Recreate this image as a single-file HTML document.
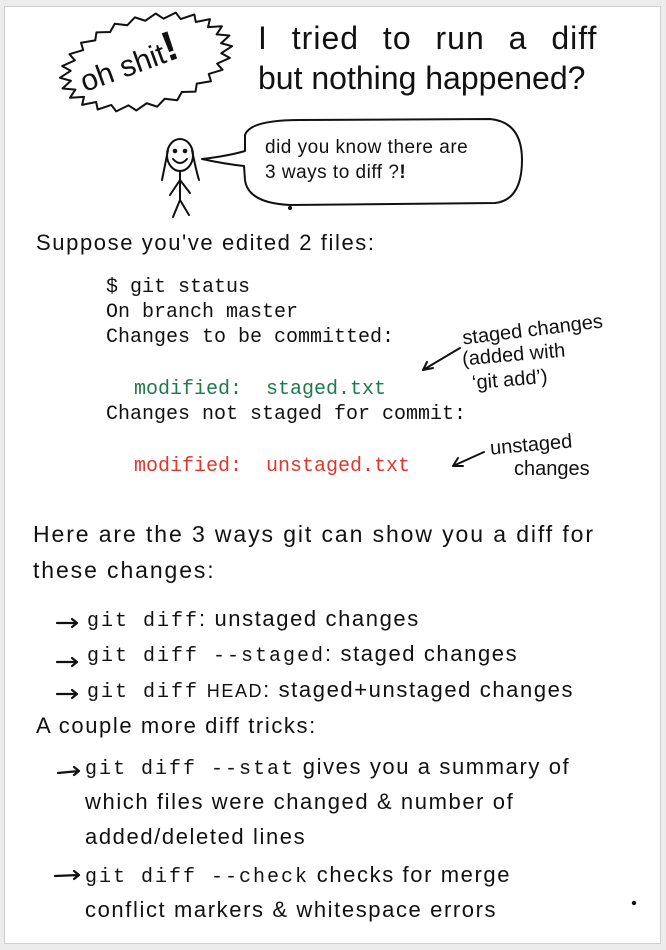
<!DOCTYPE html>
<html><head><meta charset="utf-8"><style>
html,body{margin:0;padding:0;background:#ececec;}
body{width:666px;height:950px;position:relative;overflow:hidden;font-family:"Liberation Sans",sans-serif;color:#111;}
.page{position:absolute;left:4px;top:6px;width:655px;height:936px;background:#fff;border:1px solid #cfcfcf;}
.t{position:absolute;white-space:nowrap;line-height:1;letter-spacing:1.6px;}
.m{font-family:"Liberation Mono",monospace;letter-spacing:0;}
.g{font-family:"Liberation Mono",monospace;font-size:20px;letter-spacing:2px;}
svg{position:absolute;left:0;top:0;}
</style></head><body>
<div class="page"></div>
<svg width="666" height="950" fill="none" stroke="#111" stroke-width="2" stroke-linecap="round" stroke-linejoin="round">
  <g transform="translate(146,62) rotate(-14)">
    <path id="star" d=""/>
  </g>
  <ellipse cx="180" cy="155" rx="13" ry="16"/>
  <path d="M168 150 Q164 170 162 180 M192 150 Q196 170 199 180"/>
  <circle cx="175" cy="151" r="1.3" fill="#111"/><circle cx="185" cy="151" r="1.3" fill="#111"/>
  <path d="M173 159 Q180 167 187 159"/>
  <path d="M180 171 L180 200 M180 180 L170 195 M180 180 L190 193 M180 200 L173 217 M180 200 L189 215"/>
  <path d="M245 135 Q250 120 300 120 L490 119 Q522 122 522 160 Q522 200 495 203 L290 205 Q248 203 245 180 L244 166 Q225 164 202 159 Q228 156 245 151 Z"/>
  <circle cx="290" cy="208" r="1" fill="#111"/>
  <circle cx="634" cy="903" r="1.2" fill="#111"/>
  <path d="M460 348 L423 370 M423 370 l10 -2 M423 370 l4 -8" stroke-width="2"/>
  <path d="M484 452 L453 466 M453 466 l10 0 M453 466 l5 -8" stroke-width="2"/>
  <g stroke-width="2.2">
    <path d="M57 623 L77 623 M77 623 l-5 -4 M77 623 l-5 4"/>
    <path d="M57 662 L77 662 M77 662 l-5 -4 M77 662 l-5 4"/>
    <path d="M57 694 L77 694 M77 694 l-5 -4 M77 694 l-5 4"/>
    <path d="M58 773 L79 771 M79 771 l-5 -4 M79 771 l-5 4"/>
    <path d="M55 876 L79 875 M79 875 l-5 -4 M79 875 l-5 4"/>
  </g>
</svg>
<script>
(function(){
  var p=[],n=52;
  for(var i=0;i<n;i++){var a=i/n*Math.PI*2;var r=(i%2?1:0.88);p.push((Math.cos(a)*88*r).toFixed(1)+' '+(Math.sin(a)*46*r).toFixed(1));}
  document.getElementById('star').setAttribute('d','M'+p.join(' L')+'Z');
})();
</script>
<div class="t" style="left:80px;top:58px;font-size:30px;letter-spacing:0;transform:rotate(-20deg);transform-origin:left center;">oh shit<b style="font-size:42px">!</b></div>

<div class="t" style="left:258px;top:22px;font-size:32px;word-spacing:14px;letter-spacing:1px;">I tried to run a diff</div>
<div class="t" style="left:258px;top:62px;font-size:32px;letter-spacing:0;">but nothing happened?</div>

<div class="t" style="left:265px;top:138px;font-size:19px;letter-spacing:0.5px;">did you know there are</div>
<div class="t" style="left:265px;top:163px;font-size:19px;letter-spacing:0.5px;">3 ways to diff ?<b>!</b></div>

<div class="t" style="left:36px;top:232px;font-size:22px;">Suppose you've edited 2 files:</div>

<div class="t m" style="left:106px;top:278px;font-size:20px;">$ git status</div>
<div class="t m" style="left:106px;top:303px;font-size:20px;">On branch master</div>
<div class="t m" style="left:106px;top:328px;font-size:20px;">Changes to be committed:</div>
<div class="t m" style="left:134px;top:380px;font-size:20px;color:#1e7a4a;">modified:&nbsp; staged.txt</div>
<div class="t m" style="left:106px;top:405px;font-size:20px;">Changes not staged for commit:</div>
<div class="t m" style="left:134px;top:457px;font-size:20px;color:#e2362b;">modified:&nbsp; unstaged.txt</div>

<div class="t" style="left:462px;top:320px;font-size:20px;letter-spacing:0;transform:rotate(-7deg);">staged changes</div>
<div class="t" style="left:462px;top:345px;font-size:20px;letter-spacing:0;transform:rotate(-5deg);">(added with</div>
<div class="t" style="left:472px;top:370px;font-size:20px;letter-spacing:0;transform:rotate(-5deg);">‘git add’)</div>
<div class="t" style="left:490px;top:435px;font-size:20px;letter-spacing:0;transform:rotate(-5deg);">unstaged</div>
<div class="t" style="left:514px;top:459px;font-size:20px;letter-spacing:0;">changes</div>

<div class="t" style="left:33px;top:523px;font-size:23px;letter-spacing:1.9px;">Here are the 3 ways git can show you a diff for</div>
<div class="t" style="left:33px;top:559px;font-size:23px;letter-spacing:1.9px;">these changes:</div>

<div class="t" style="left:87px;top:608px;font-size:22px;"><span class="g">git diff</span>: unstaged changes</div>
<div class="t" style="left:87px;top:643px;font-size:22px;"><span class="g">git diff --staged</span>: staged changes</div>
<div class="t" style="left:87px;top:679px;font-size:22px;"><span class="g">git diff</span> <span style="font-size:18px">HEAD</span>: staged+unstaged changes</div>
<div class="t" style="left:36px;top:715px;font-size:22px;">A couple more diff tricks:</div>
<div class="t" style="left:85px;top:756px;font-size:22px;"><span class="g">git diff --stat</span> gives you a summary of</div>
<div class="t" style="left:85px;top:791px;font-size:22px;">which files were changed &amp; number of</div>
<div class="t" style="left:85px;top:826px;font-size:22px;">added/deleted lines</div>
<div class="t" style="left:85px;top:864px;font-size:22px;"><span class="g">git diff --check</span> checks for merge</div>
<div class="t" style="left:85px;top:899px;font-size:22px;">conflict markers &amp; whitespace errors</div>
</body></html>
